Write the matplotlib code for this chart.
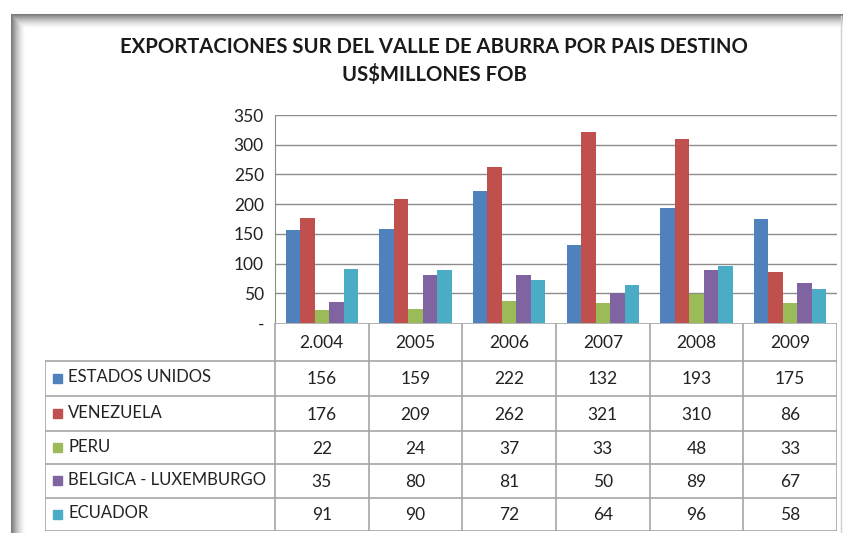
import matplotlib.pyplot as plt
import numpy as np

plt.rcParams['font.family'] = ['Lato', 'DejaVu Sans']

# datos
anios = ['2.004', '2005', '2006', '2007', '2008', '2009']
paises = ['ESTADOS UNIDOS', 'VENEZUELA', 'PERU', 'BELGICA - LUXEMBURGO', 'ECUADOR']
estados_unidos = [156, 159, 222, 132, 193, 175]
venezuela = [176, 209, 262, 321, 310, 86]
peru = [22, 24, 37, 33, 48, 33]
belgica = [35, 80, 81, 50, 89, 67]
ecuador = [91, 90, 72, 64, 96, 58]
series = [estados_unidos, venezuela, peru, belgica, ecuador]
colores = ['#4F81BD', '#C0504D', '#9BBB59', '#8064A2', '#4BACC6']
y_ticks = [0, 50, 100, 150, 200, 250, 300, 350]
y_labels = ['-', '50', '100', '150', '200', '250', '300', '350']

W, H = 843, 533
fig = plt.figure(figsize=(W / 100, H / 100), dpi=100)


def fx(px):
    return px / W


def fy(py):
    return 1 - py / H


# marco con sombra
bg = fig.add_axes([0, 0, 1, 1])
bg.set_xlim(0, W)
bg.set_ylim(H, 0)
bg.axis('off')
xx, yy = np.meshgrid(np.arange(W) + 0.5, np.arange(H) + 0.5)
d_left = np.clip(1 - (xx - 11) / 15, 0, 1) ** 1.6
d_top = np.clip(1 - (yy - 14) / 15, 0, 1) ** 1.6
dark = np.maximum(d_left, d_top)
dark[(xx < 11) | (yy < 14)] = 0
val = 1 - 0.55 * dark
img = np.dstack([val, val, val])
bg.imshow(img, extent=[0, W, H, 0], interpolation='nearest', aspect='auto')
bg.plot([841, 841], [16, H], color='#d0d0d0', lw=1)

# titulo
fig.text(fx(434), fy(47), 'EXPORTACIONES SUR DEL VALLE DE ABURRA POR PAIS DESTINO',
         ha='center', va='center', fontsize=14.6, fontweight='bold', color='#1a1a1a')
fig.text(fx(434), fy(75), 'US$MILLONES FOB',
         ha='center', va='center', fontsize=14.6, fontweight='bold', color='#1a1a1a')

# grafico de barras
left, right, top, bottom = 275, 837, 115, 323
ax = fig.add_axes([fx(left), fy(bottom), fx(right) - fx(left), fy(top) - fy(bottom)])
n = len(anios)
x = np.arange(n)
bw = 0.155
for i, (vals, c) in enumerate(zip(series, colores)):
    ax.bar(x + 0.5 + (i - 2) * bw, vals, width=bw, color=c, zorder=3)
ax.set_xlim(0, n)
ax.set_ylim(0, 350)
ax.set_yticks(y_ticks)
ax.set_yticklabels(y_labels)
ax.set_xticks([])
ax.tick_params(axis='y', length=0, pad=8, labelsize=12.5, labelcolor='#222222')
for v in y_ticks[1:]:
    ax.axhline(v, color='#8c8c8c', lw=1, zorder=1)
for s in ['top', 'right', 'bottom']:
    ax.spines[s].set_visible(False)
ax.spines['left'].set_color('#8c8c8c')
ax.patch.set_alpha(0)

# tabla de datos
t_left = 45
t_bottom = 531
t = fig.add_axes([fx(t_left), fy(t_bottom), fx(right) - fx(t_left), fy(bottom) - fy(t_bottom)])
t.set_xlim(t_left, right)
t.set_ylim(t_bottom, bottom)
t.axis('off')
col_w = (right - left) / n
row_y = [bottom, 361, 396, 431, 464, 498, 531]
lc = '#a6a6a6'
# lineas horizontales
t.plot([left, right], [row_y[0], row_y[0]], color=lc, lw=1.2)
for yv in row_y[1:]:
    t.plot([t_left, right], [yv, yv], color=lc, lw=1.2)
# lineas verticales
t.plot([t_left, t_left], [row_y[1], row_y[-1]], color=lc, lw=1.2)
for j in range(n + 1):
    xv = left + j * col_w
    t.plot([xv, xv], [row_y[0], row_y[-1]], color=lc, lw=1.2)
# encabezados
for j, a in enumerate(anios):
    t.text(left + (j + 0.5) * col_w, (row_y[0] + row_y[1]) / 2 + 1, a,
           ha='center', va='center', fontsize=12.5, color='#222222')
# filas
for i, (nombre, vals, c) in enumerate(zip(paises, series, colores)):
    yc = (row_y[i + 1] + row_y[i + 2]) / 2
    t.add_patch(plt.Rectangle((53, yc - 5), 9, 9, color=c))
    t.text(68, yc - 1, nombre, ha='left', va='center', fontsize=12, color='#222222')
    for j, v in enumerate(vals):
        t.text(left + (j + 0.5) * col_w, yc + 1, str(v),
               ha='center', va='center', fontsize=12.5, color='#222222')

fig.savefig('out.png', dpi=100)
